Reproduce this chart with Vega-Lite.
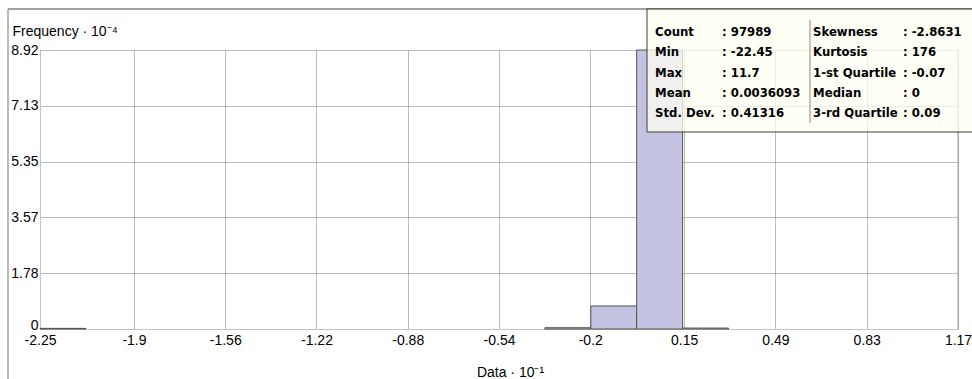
{
  "$schema": "https://vega.github.io/schema/vega-lite/v6.json",
  "width": 918,
  "height": 279,
  "autosize": {"type": "none"},
  "padding": {"left": 40, "top": 50, "right": 14, "bottom": 50},
  "background": "white",
  "config": {
    "view": {"stroke": null},
    "font": "Liberation Sans",
    "axis": {
      "labelFont": "Liberation Sans",
      "labelFontSize": 14,
      "labelColor": "#000000",
      "titleFont": "Liberation Sans",
      "titleFontSize": 14,
      "titleFontWeight": "normal",
      "titleColor": "#000000",
      "ticks": false,
      "grid": true,
      "gridColor": "#7a7a7a",
      "gridDash": [1, 1],
      "gridWidth": 1,
      "domainColor": "#c4c4c4",
      "labelOverlap": false,
      "labelExpr": "'' + datum.value"
    }
  },
  "datasets": {
    "hist": [
      {"bin_start": -2.25, "bin_end": -2.079, "frequency": 0.02},
      {"bin_start": -2.079, "bin_end": -1.908, "frequency": 0},
      {"bin_start": -1.908, "bin_end": -1.737, "frequency": 0},
      {"bin_start": -1.737, "bin_end": -1.566, "frequency": 0},
      {"bin_start": -1.566, "bin_end": -1.395, "frequency": 0},
      {"bin_start": -1.395, "bin_end": -1.224, "frequency": 0},
      {"bin_start": -1.224, "bin_end": -1.053, "frequency": 0},
      {"bin_start": -1.053, "bin_end": -0.882, "frequency": 0},
      {"bin_start": -0.882, "bin_end": -0.711, "frequency": 0},
      {"bin_start": -0.711, "bin_end": -0.54, "frequency": 0},
      {"bin_start": -0.54, "bin_end": -0.369, "frequency": 0},
      {"bin_start": -0.369, "bin_end": -0.198, "frequency": 0.04},
      {"bin_start": -0.198, "bin_end": -0.027, "frequency": 0.735},
      {"bin_start": -0.027, "bin_end": 0.144, "frequency": 8.92},
      {"bin_start": 0.144, "bin_end": 0.315, "frequency": 0.03},
      {"bin_start": 0.315, "bin_end": 0.486, "frequency": 0},
      {"bin_start": 0.486, "bin_end": 0.657, "frequency": 0},
      {"bin_start": 0.657, "bin_end": 0.828, "frequency": 0},
      {"bin_start": 0.828, "bin_end": 0.999, "frequency": 0},
      {"bin_start": 0.999, "bin_end": 1.17, "frequency": 0}
    ],
    "stats": [
      {"group": "left",
       "names": ["Count", "Min", "Max", "Mean", "Std. Dev."],
       "values": [": 97989", ": -22.45", ": 11.7", ": 0.0036093", ": 0.41316"]},
      {"group": "right",
       "names": ["Skewness", "Kurtosis", "1-st Quartile", "Median", "3-rd Quartile"],
       "values": [": -2.8631", ": 176", ": -0.07", ": 0", ": 0.09"]}
    ],
    "one": [{"id": 1}]
  },
  "layer": [
    {
      "data": {"name": "hist"},
      "transform": [{"filter": "datum.frequency > 0"}],
      "mark": {"type": "rect", "fill": "#c4c4e2", "stroke": "#505050", "strokeWidth": 1},
      "encoding": {
        "x": {
          "field": "bin_start", "type": "quantitative",
          "scale": {"domain": [-2.25, 1.17], "nice": false, "zero": false},
          "axis": {
            "values": [-2.25, -1.9, -1.56, -1.22, -0.88, -0.54, -0.2, 0.15, 0.49, 0.83, 1.17],
            "labelFlush": false,
            "labelPadding": 4,
            "title": "Data · 10⁻¹",
            "titleX": 470,
            "titleY": 47,
            "titleAlign": "center",
            "titleBaseline": "alphabetic"
          }
        },
        "x2": {"field": "bin_end"},
        "y": {
          "field": "frequency", "type": "quantitative",
          "scale": {"domain": [0, 8.92], "nice": false, "zero": true},
          "axis": {
            "values": [0, 1.78, 3.57, 5.35, 7.13, 8.92],
            "labelPadding": 2,
            "labelOffset": {"condition": {"test": "datum.value == 0", "value": -4}, "value": 0},
            "title": "Frequency · 10⁻⁴",
            "titleAngle": 0,
            "titleX": -28,
            "titleY": -15,
            "titleAlign": "left",
            "titleBaseline": "alphabetic"
          }
        },
        "y2": {"datum": 0}
      }
    },
    {
      "data": {"name": "one"},
      "mark": {"type": "rule", "color": "#9a9a9a", "strokeWidth": 1},
      "encoding": {
        "x": {"datum": 1.17},
        "y": {"datum": 0},
        "y2": {"datum": 8.92}
      }
    },
    {
      "data": {"name": "one"},
      "mark": {"type": "rule", "color": "#444444", "strokeWidth": 1, "clip": false},
      "encoding": {
        "x": {"datum": -2.3692},
        "x2": {"datum": 1.23},
        "y": {"datum": 10.231}
      }
    },
    {
      "data": {"name": "one"},
      "mark": {"type": "rule", "color": "#7a7a7a", "strokeWidth": 1, "clip": false},
      "encoding": {
        "x": {"datum": -2.3692},
        "y": {"datum": 10.231},
        "y2": {"datum": -1.7}
      }
    },
    {
      "data": {"name": "one"},
      "mark": {"type": "rect", "fill": "#fffff2", "fillOpacity": 0.75, "stroke": "#3c3c3c", "strokeWidth": 1, "clip": false},
      "encoding": {
        "x": {"datum": 0.0114},
        "x2": {"datum": 1.26},
        "y": {"datum": 10.231},
        "y2": {"datum": 6.298}
      }
    },
    {
      "data": {"name": "one"},
      "mark": {"type": "rule", "color": "#8a8a8a", "strokeWidth": 1},
      "encoding": {
        "x": {"datum": 0.6186},
        "y": {"datum": 9.879},
        "y2": {"datum": 6.586}
      }
    },
    {
      "data": {"name": "stats"},
      "transform": [{"filter": "datum.group == 'left'"}],
      "mark": {"type": "text", "font": "DejaVu Sans Condensed, DejaVu Sans", "fontSize": 13, "fontWeight": "bold", "align": "left", "baseline": "alphabetic", "lineHeight": 20.3, "color": "#000000"},
      "encoding": {
        "x": {"datum": 0.0414},
        "y": {"datum": 9.367},
        "text": {"field": "names", "type": "nominal"}
      }
    },
    {
      "data": {"name": "stats"},
      "transform": [{"filter": "datum.group == 'left'"}],
      "mark": {"type": "text", "font": "DejaVu Sans Condensed, DejaVu Sans", "fontSize": 13, "fontWeight": "bold", "align": "left", "baseline": "alphabetic", "lineHeight": 20.3, "color": "#000000"},
      "encoding": {
        "x": {"datum": 0.291},
        "y": {"datum": 9.367},
        "text": {"field": "values", "type": "nominal"}
      }
    },
    {
      "data": {"name": "stats"},
      "transform": [{"filter": "datum.group == 'right'"}],
      "mark": {"type": "text", "font": "DejaVu Sans Condensed, DejaVu Sans", "fontSize": 13, "fontWeight": "bold", "align": "left", "baseline": "alphabetic", "lineHeight": 20.3, "color": "#000000"},
      "encoding": {
        "x": {"datum": 0.63},
        "y": {"datum": 9.367},
        "text": {"field": "names", "type": "nominal"}
      }
    },
    {
      "data": {"name": "stats"},
      "transform": [{"filter": "datum.group == 'right'"}],
      "mark": {"type": "text", "font": "DejaVu Sans Condensed, DejaVu Sans", "fontSize": 13, "fontWeight": "bold", "align": "left", "baseline": "alphabetic", "lineHeight": 20.3, "color": "#000000"},
      "encoding": {
        "x": {"datum": 0.965},
        "y": {"datum": 9.367},
        "text": {"field": "values", "type": "nominal"}
      }
    }
  ]
}
